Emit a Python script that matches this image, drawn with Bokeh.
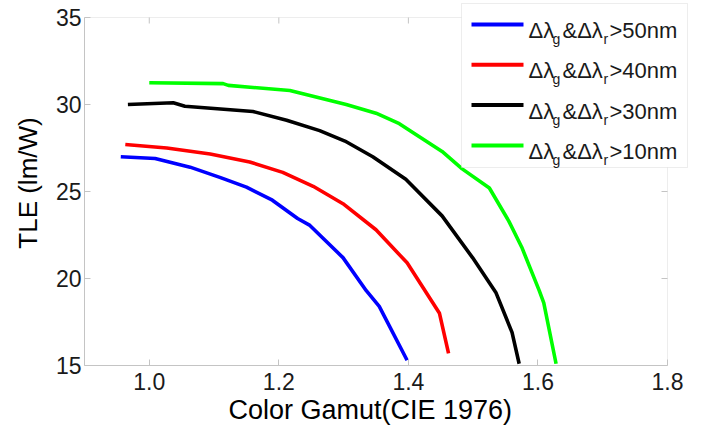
import math
from bokeh.plotting import figure
from bokeh.models import (FixedTicker, PrintfTickFormatter, Range1d,
                          Label, BoxAnnotation, Title)
from bokeh.embed import file_html
from bokeh.resources import INLINE

# ---- data ----
blue_x = [0.956, 1.009, 1.063, 1.110, 1.150, 1.190, 1.229, 1.248, 1.299, 1.335, 1.355, 1.398]
blue_y = [27.0, 26.9, 26.4, 25.8, 25.25, 24.5, 23.45, 23.05, 21.2, 19.3, 18.4, 15.3]

red_x = [0.963, 1.027, 1.094, 1.155, 1.206, 1.253, 1.299, 1.350, 1.398, 1.448, 1.462]
red_y = [27.7, 27.5, 27.15, 26.7, 26.1, 25.3, 24.3, 22.8, 20.9, 18.0, 15.7]

black_x = [0.967, 1.037, 1.055, 1.160, 1.212, 1.263, 1.302, 1.345, 1.396, 1.452, 1.499, 1.535, 1.560, 1.571]
black_y = [30.0, 30.1, 29.9, 29.6, 29.1, 28.5, 27.9, 27.0, 25.7, 23.6, 21.2, 19.2, 16.9, 15.1]

green_x = [1.000, 1.114, 1.122, 1.217, 1.304, 1.350, 1.386, 1.452, 1.483, 1.525, 1.555, 1.575, 1.602, 1.609, 1.628]
green_y = [31.25, 31.2, 31.1, 30.8, 30.0, 29.5, 28.9, 27.3, 26.3, 25.2, 23.3, 21.8, 19.3, 18.6, 15.1]

series_labels = [">50nm", ">40nm", ">30nm", ">10nm"]
series_colors = ["#0000ff", "#ff0000", "#000000", "#00ff00"]
x_ticks = [1.0, 1.2, 1.4, 1.6, 1.8]
y_ticks = [15, 20, 25, 30, 35]
X0, X1, Y0, Y1 = 0.9, 1.8, 15, 35

W, H = 705, 434
FL, FT, FR, FB = 84, 17, 667, 365   # axes box edges in canvas pixels
FRE = 700                            # extended frame right (room for legend)
FONT = "Liberation Sans"
GRAY = "#c4c4c4"
TXT = "#1a1a1a"

# extend the frame up to the canvas top and right so the legend is not clipped
ppx = (FR - FL) / (X1 - X0)
ppy = (FB - FT) / (Y1 - Y0)
x_end = X1 + (FRE - FR) / ppx
y_end = Y1 + FT / ppy

p = figure(width=W, height=H, output_backend="svg", toolbar_location=None,
           x_range=Range1d(X0, x_end), y_range=Range1d(Y0, y_end),
           min_border_left=FL, min_border_right=W - FRE, min_border_top=0,
           min_border_bottom=H - FB)
p.grid.visible = False
p.outline_line_color = None
p.background_fill_color = "white"
p.border_fill_color = "white"

p.xaxis.ticker = FixedTicker(ticks=x_ticks)
p.xaxis.formatter = PrintfTickFormatter(format="%.1f")
p.xaxis.bounds = (X0, X1)
p.yaxis.ticker = FixedTicker(ticks=y_ticks)
p.yaxis.bounds = (Y0, Y1)
p.yaxis.axis_label = "TLE (lm/W)"

for ax in p.xaxis + p.yaxis:
    ax.axis_line_color = GRAY
    ax.major_tick_line_color = GRAY
    ax.major_tick_in = 6
    ax.major_tick_out = 0
    ax.minor_tick_line_color = None
    ax.major_label_text_font = FONT
    ax.major_label_text_font_size = "23px"
    ax.major_label_text_color = TXT
    ax.axis_label_text_font = FONT
    ax.axis_label_text_font_size = "26px"
    ax.axis_label_text_font_style = "normal"
    ax.axis_label_text_color = "#000000"
p.xaxis.major_label_standoff = 7
p.yaxis.major_label_standoff = 3
p.yaxis.axis_label_standoff = 10

# x-axis label as a title below, aligned to where the reference puts it
p.add_layout(Title(text="Color Gamut(CIE 1976)", align="left", offset=228 - FL,
                   text_font=FONT, text_font_size="27px", text_font_style="normal",
                   text_color="#000000", standoff=0), "below")

# axes box and inward ticks on the top and right edges
p.add_layout(BoxAnnotation(left=X0, right=X1, bottom=Y0, top=Y1, fill_alpha=0,
                           line_color=GRAY, line_width=1, level="underlay"))
p.ray(x=x_ticks, y=[Y1] * len(x_ticks), length=6, length_units="screen",
      angle=-math.pi / 2, line_color=GRAY, line_width=1)
p.ray(x=[X1] * len(y_ticks), y=y_ticks, length=6, length_units="screen",
      angle=math.pi, line_color=GRAY, line_width=1)

all_x = [blue_x, red_x, black_x, green_x]
all_y = [blue_y, red_y, black_y, green_y]
for xs, ys, c in zip(all_x, all_y, series_colors):
    p.line(xs, ys, line_color=c, line_width=3.6)

# ---- legend (manual, to allow subscripts) ----
# "screen" units are relative to the frame's bottom-left corner, y up.
def fx(v):
    return v - FL

def fy(v):
    return FB - v

def sbox(l, r, t, b, **kw):
    return BoxAnnotation(left=fx(l), right=fx(r), top=fy(t), bottom=fy(b),
                         left_units="screen", right_units="screen",
                         top_units="screen", bottom_units="screen",
                         level="overlay", **kw)

p.add_layout(sbox(461, 687, 3, 167, fill_color="white", fill_alpha=1.0,
                  line_color=GRAY, line_width=1))
row0, dy = 24, 40.3
for i, (lab, c) in enumerate(zip(series_labels, series_colors)):
    yl = row0 + i * dy
    p.add_layout(sbox(471, 523, yl - 2, yl + 2, fill_color=c, fill_alpha=1.0,
                      line_color=None))
    base = yl + 6
    sub = base + 8.5
    pieces = [("Δλ", 528, base, "22px"), ("g", 552, sub, "14px"),
              ("&Δλ", 562, base, "22px"), ("r", 603, sub, "14px"),
              (lab, 609, base, "22px")]
    for t, x, yb, fs in pieces:
        p.add_layout(Label(x=fx(x), y=fy(yb), x_units="screen", y_units="screen",
                           text=t, text_font=FONT, text_font_size=fs,
                           text_color=TXT, text_baseline="alphabetic",
                           text_align="left", level="overlay"))

open("out.html", "w").write(file_html(p, INLINE))
